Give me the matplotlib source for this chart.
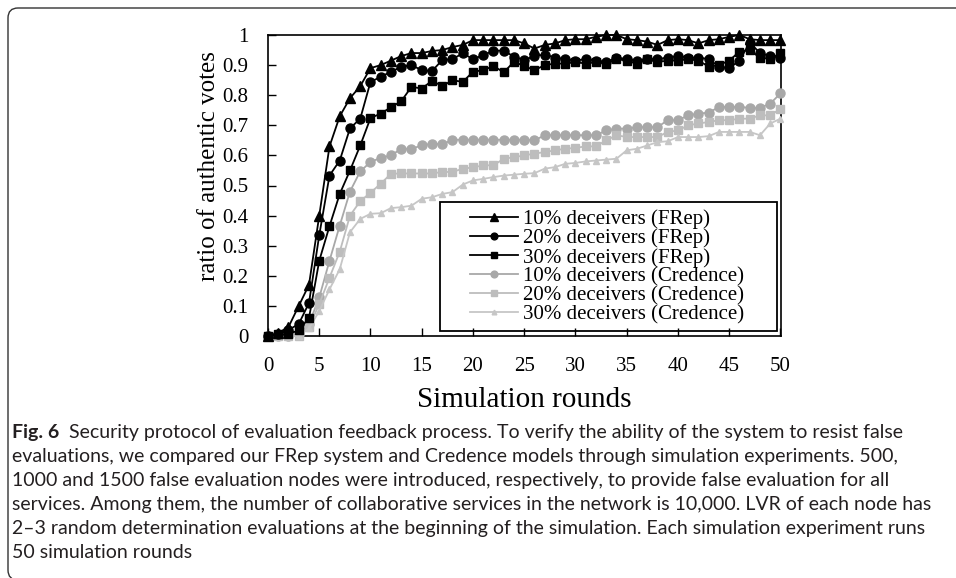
import matplotlib
matplotlib.use("Agg")
import matplotlib.pyplot as plt
from matplotlib.patches import FancyBboxPatch, Rectangle

# simulation rounds on the x axis
rounds = list(range(51))

# ratio of authentic votes
frep_10 = [0, 0.01, 0.03, 0.10, 0.17, 0.40, 0.63, 0.73, 0.79, 0.83,
           0.89, 0.90, 0.915, 0.93, 0.94, 0.94, 0.947, 0.95, 0.96, 0.967,
           0.983, 0.983, 0.983, 0.983, 0.983, 0.972, 0.955, 0.967, 0.972, 0.983,
           0.986, 0.986, 0.994, 1.0, 1.0, 0.986, 0.983, 0.978, 0.967, 0.983,
           0.986, 0.983, 0.972, 0.983, 0.986, 0.994, 1.0, 0.986, 0.983, 0.983,
           0.983]
frep_20 = [0, 0.005, 0.02, 0.04, 0.11, 0.335, 0.533, 0.583, 0.69, 0.722,
           0.844, 0.861, 0.878, 0.894, 0.9, 0.883, 0.88, 0.917, 0.92, 0.939,
           0.92, 0.933, 0.948, 0.948, 0.928, 0.917, 0.93, 0.935, 0.925, 0.92,
           0.915, 0.92, 0.915, 0.91, 0.925, 0.92, 0.915, 0.92, 0.92, 0.925,
           0.93, 0.925, 0.925, 0.92, 0.895, 0.89, 0.915, 0.975, 0.94, 0.93,
           0.925]
frep_30 = [0, 0.005, 0.005, 0.02, 0.06, 0.25, 0.365, 0.472, 0.55, 0.633,
           0.724, 0.739, 0.76, 0.78, 0.828, 0.822, 0.848, 0.83, 0.85, 0.844,
           0.878, 0.883, 0.897, 0.876, 0.911, 0.897, 0.883, 0.9, 0.905, 0.905,
           0.91, 0.905, 0.91, 0.905, 0.92, 0.915, 0.905, 0.92, 0.91, 0.915,
           0.915, 0.92, 0.915, 0.895, 0.9, 0.915, 0.945, 0.95, 0.925, 0.92,
           0.94]
cred_10 = [0, 0, 0, 0.005, 0.04, 0.128, 0.25, 0.367, 0.48, 0.547,
           0.578, 0.592, 0.6, 0.622, 0.622, 0.633, 0.639, 0.637, 0.652, 0.652,
           0.652, 0.652, 0.652, 0.652, 0.652, 0.652, 0.65, 0.667, 0.667, 0.667,
           0.667, 0.667, 0.667, 0.683, 0.689, 0.689, 0.694, 0.694, 0.694, 0.717,
           0.717, 0.733, 0.739, 0.742, 0.761, 0.761, 0.761, 0.758, 0.758, 0.772,
           0.806]
cred_20 = [0, 0, 0, 0, 0.03, 0.106, 0.194, 0.28, 0.40, 0.448,
           0.476, 0.506, 0.539, 0.54, 0.54, 0.54, 0.54, 0.545, 0.545, 0.556,
           0.56, 0.567, 0.567, 0.589, 0.594, 0.6, 0.606, 0.611, 0.617, 0.622,
           0.625, 0.63, 0.63, 0.65, 0.667, 0.661, 0.661, 0.661, 0.661, 0.678,
           0.683, 0.7, 0.706, 0.711, 0.717, 0.717, 0.722, 0.722, 0.733, 0.733,
           0.755]
cred_30 = [0, 0, 0, 0, 0.025, 0.083, 0.155, 0.222, 0.345, 0.389,
           0.406, 0.408, 0.425, 0.428, 0.433, 0.456, 0.461, 0.472, 0.478, 0.503,
           0.517, 0.522, 0.528, 0.533, 0.536, 0.539, 0.541, 0.556, 0.561, 0.572,
           0.575, 0.58, 0.583, 0.586, 0.589, 0.617, 0.622, 0.633, 0.644, 0.647,
           0.661, 0.661, 0.661, 0.664, 0.678, 0.678, 0.678, 0.678, 0.667, 0.706,
           0.722]

series_labels = ["10% deceivers (FRep)", "20% deceivers (FRep)", "30% deceivers (FRep)",
                 "10% deceivers (Credence)", "20% deceivers (Credence)", "30% deceivers (Credence)"]

x_ticks = list(range(0, 51, 5))
y_ticks = [0, 0.1, 0.2, 0.3, 0.4, 0.5, 0.6, 0.7, 0.8, 0.9, 1]
y_tick_labels = ["0", "0.1", "0.2", "0.3", "0.4", "0.5", "0.6", "0.7", "0.8", "0.9", "1"]

caption_lines = [
    "Security protocol of evaluation feedback process. To verify the ability of the system to resist false",
    "evaluations, we compared our FRep system and Credence models through simulation experiments. 500,",
    "1000 and 1500 false evaluation nodes were introduced, respectively, to provide false evaluation for all",
    "services. Among them, the number of collaborative services in the network is 10,000. LVR of each node has",
    "2\u20133 random determination evaluations at the beginning of the simulation. Each simulation experiment runs",
    "50 simulation rounds",
]

plt.rcParams['font.family'] = 'Liberation Serif'

W, H = 956, 578
fig = plt.figure(figsize=(W / 100, H / 100), dpi=100)

# outer rounded panel frame (runs off the right and bottom edges)
frame = FancyBboxPatch((0.08, -0.02), 10.0, 5.72, boxstyle="round,pad=0,rounding_size=0.1",
                       transform=fig.dpi_scale_trans, fill=False, edgecolor='#333333', lw=1.0)
fig.add_artist(frame)

ax = fig.add_axes([268 / W, (H - 336) / H, (781 - 268) / W, (336 - 35) / H])

styles = [
    (frep_10, '^', '#000000', 7.5, 1.3),
    (frep_20, 'o', '#000000', 6.5, 1.3),
    (frep_30, 's', '#000000', 6.0, 1.3),
    (cred_10, 'o', '#a8a8a8', 6.5, 1.3),
    (cred_20, 's', '#bdbdbd', 5.5, 1.3),
    (cred_30, '^', '#c6c6c6', 4.5, 1.3),
]
for i, (vals, mk, col, ms, lw) in enumerate(styles):
    z = 5 if col == '#000000' else 3
    ax.plot(rounds, vals, marker=mk, color=col, ms=ms, lw=lw, mec=col, mfc=col,
            label=series_labels[i], clip_on=False, zorder=z)

ax.set_xlim(0, 50.05)
ax.set_ylim(0, 1)
ax.set_xticks(x_ticks)
ax.set_yticks(y_ticks)
ax.set_yticklabels(y_tick_labels)
ax.tick_params(direction='in', length=6, width=1.0, labelsize=15, colors='#000000')
ax.tick_params(axis='x', pad=15)
ax.tick_params(axis='y', pad=14)
for sp in ax.spines.values():
    sp.set_linewidth(1.2)

ax.set_xlabel("Simulation rounds", fontsize=21)
ax.xaxis.set_label_coords(0.5, -0.17)
ax.set_ylabel("ratio of authentic votes", fontsize=18)
ax.yaxis.set_label_coords(-0.094, 0.563)

# legend: frameless entries plus a drawn box, as in the original
leg = ax.legend(loc='upper left', bbox_to_anchor=(0.394, 0.42), frameon=False,
                fontsize=15, borderpad=0, borderaxespad=0, handlelength=2.3,
                handletextpad=0.25, labelspacing=-0.03, markerscale=0.75)
ax.add_patch(Rectangle((0.335, 0.0166), 0.657, 0.4286, transform=ax.transAxes,
                       fill=False, edgecolor='#000000', lw=1.3, zorder=6))
leg.set_zorder(7)

# caption below the chart
cap_font = 'Lato'
cap_size = 14
y0 = 438
renderer = fig.canvas.get_renderer()
bold = fig.text(12 / W, 1 - y0 / H, "Fig. 6", fontsize=cap_size, family=cap_font,
                weight='bold', va='baseline', color='#231f20')
bb = bold.get_window_extent(renderer)
fig.text((bb.x1 + 10) / W, 1 - y0 / H, caption_lines[0], fontsize=cap_size,
         family=cap_font, va='baseline', color='#231f20')
for k, line in enumerate(caption_lines[1:], start=1):
    fig.text(12 / W, 1 - (y0 + 24 * k) / H, line, fontsize=cap_size, family=cap_font,
             va='baseline', color='#231f20')

fig.savefig("out.png", dpi=100)
